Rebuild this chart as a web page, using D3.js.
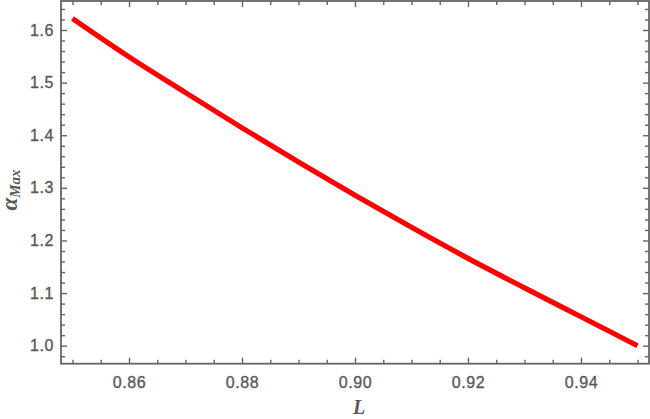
<!DOCTYPE html>
<html>
<head>
<meta charset="utf-8">
<script src="https://cdn.jsdelivr.net/npm/d3@7"></script>
<style>
  html, body { margin: 0; padding: 0; background: #fff; }
  svg { display: block; }
</style>
</head>
<body>
<svg id="chart" width="650" height="419"></svg>
<script>
// ---- data ----
const L = [0.85, 0.86, 0.87, 0.88, 0.89, 0.90, 0.91, 0.92, 0.93, 0.94, 0.95];
const alphaMax = [1.622, 1.549, 1.481, 1.414, 1.349, 1.286, 1.225, 1.166, 1.110, 1.055, 1.000];
const xTicks = [0.86, 0.88, 0.90, 0.92, 0.94];
const xTickLabels = ["0.86", "0.88", "0.90", "0.92", "0.94"];
const yTicks = [1.0, 1.1, 1.2, 1.3, 1.4, 1.5, 1.6];
const yTickLabels = ["1.0", "1.1", "1.2", "1.3", "1.4", "1.5", "1.6"];
const xMinor = d3.range(0, 21).map(i => +(0.85 + i * 0.005).toFixed(3)).filter(v => !xTicks.some(t => Math.abs(t - v) < 1e-9));
const yMinor = d3.range(0, 35).map(i => +(0.96 + i * 0.02).toFixed(2)).filter(v => !yTicks.some(t => Math.abs(t - v) < 1e-9));

// ---- layout ----
const mLeft = 61, mRight = 649, mTop = 1, mBottom = 363.7;
const x = d3.scaleLinear().domain([0.84796, 0.95204]).range([mLeft, mRight]);
const y = d3.scaleLinear().domain([0.96579, 1.65511]).range([mBottom, mTop]);

const svg = d3.select("#chart");
const gray = "#646464";
const labelColor = "#595959";

// data curve
svg.append("path")
  .datum(L.map((v, i) => [v, alphaMax[i]]))
  .attr("fill", "none")
  .attr("stroke", "#ff0000")
  .attr("stroke-width", 5.2)
  .attr("d", d3.line().x(d => x(d[0])).y(d => y(d[1])).curve(d3.curveMonotoneX));

function styleAxis(g, showLabels) {
  g.select(".domain").remove();
  g.selectAll(".tick line").attr("stroke", gray).attr("stroke-width", 1.4);
  if (!showLabels) g.selectAll(".tick text").remove();
  else g.selectAll(".tick text")
      .attr("fill", labelColor)
      .attr("stroke", labelColor)
      .attr("stroke-width", 0.35)
      .style("font-family", "'Liberation Sans', Arial, sans-serif")
      .style("font-size", "16px")
      .style("letter-spacing", "0.6px");
}
const fmtX = d => xTickLabels[xTicks.findIndex(t => Math.abs(t - d) < 1e-9)];
const fmtY = d => yTickLabels[yTicks.findIndex(t => Math.abs(t - d) < 1e-9)];
const yMinorIn = yMinor.filter(v => v >= 0.966 && v <= 1.655);

// bottom
svg.append("g").attr("transform", `translate(0,${mBottom})`)
  .call(d3.axisBottom(x).tickValues(xTicks).tickSize(-6).tickPadding(13).tickFormat(fmtX))
  .call(g => styleAxis(g, true));
svg.append("g").attr("transform", `translate(0,${mBottom})`)
  .call(d3.axisBottom(x).tickValues(xMinor).tickSize(-4).tickFormat(""))
  .call(g => styleAxis(g, false));
// top
svg.append("g").attr("transform", `translate(0,${mTop})`)
  .call(d3.axisTop(x).tickValues(xTicks).tickSize(-6).tickFormat(""))
  .call(g => styleAxis(g, false));
svg.append("g").attr("transform", `translate(0,${mTop})`)
  .call(d3.axisTop(x).tickValues(xMinor).tickSize(-4).tickFormat(""))
  .call(g => styleAxis(g, false));
// left
svg.append("g").attr("transform", `translate(${mLeft},0)`)
  .call(d3.axisLeft(y).tickValues(yTicks).tickSize(-6).tickPadding(7).tickFormat(fmtY))
  .call(g => styleAxis(g, true));
svg.append("g").attr("transform", `translate(${mLeft},0)`)
  .call(d3.axisLeft(y).tickValues(yMinorIn).tickSize(-4).tickFormat(""))
  .call(g => styleAxis(g, false));
// right
svg.append("g").attr("transform", `translate(${mRight},0)`)
  .call(d3.axisRight(y).tickValues(yTicks).tickSize(-6).tickFormat(""))
  .call(g => styleAxis(g, false));
svg.append("g").attr("transform", `translate(${mRight},0)`)
  .call(d3.axisRight(y).tickValues(yMinorIn).tickSize(-4).tickFormat(""))
  .call(g => styleAxis(g, false));

// frame
svg.append("rect")
  .attr("x", mLeft).attr("y", mTop)
  .attr("width", mRight - mLeft).attr("height", mBottom - mTop)
  .attr("fill", "none").attr("stroke", gray).attr("stroke-width", 1.8);

// axis titles
svg.append("text")
  .attr("x", (mLeft + mRight) / 2 + 4).attr("y", 414)
  .attr("text-anchor", "middle")
  .attr("fill", labelColor)
  .style("font-family", "'Liberation Serif', 'Times New Roman', serif")
  .style("font-style", "italic").style("font-weight", "bold")
  .style("font-size", "20px")
  .text("L");

const yt = svg.append("text")
  .attr("transform", `translate(17,190) rotate(-90)`)
  .attr("text-anchor", "middle")
  .attr("fill", labelColor)
  .style("font-family", "'Liberation Serif', 'Times New Roman', serif")
  .style("font-style", "italic").style("font-weight", "bold");
yt.append("tspan").style("font-size", "23px").text("α");
yt.append("tspan").style("font-size", "15px").attr("dy", 3).text("Max");
</script>
</body>
</html>
